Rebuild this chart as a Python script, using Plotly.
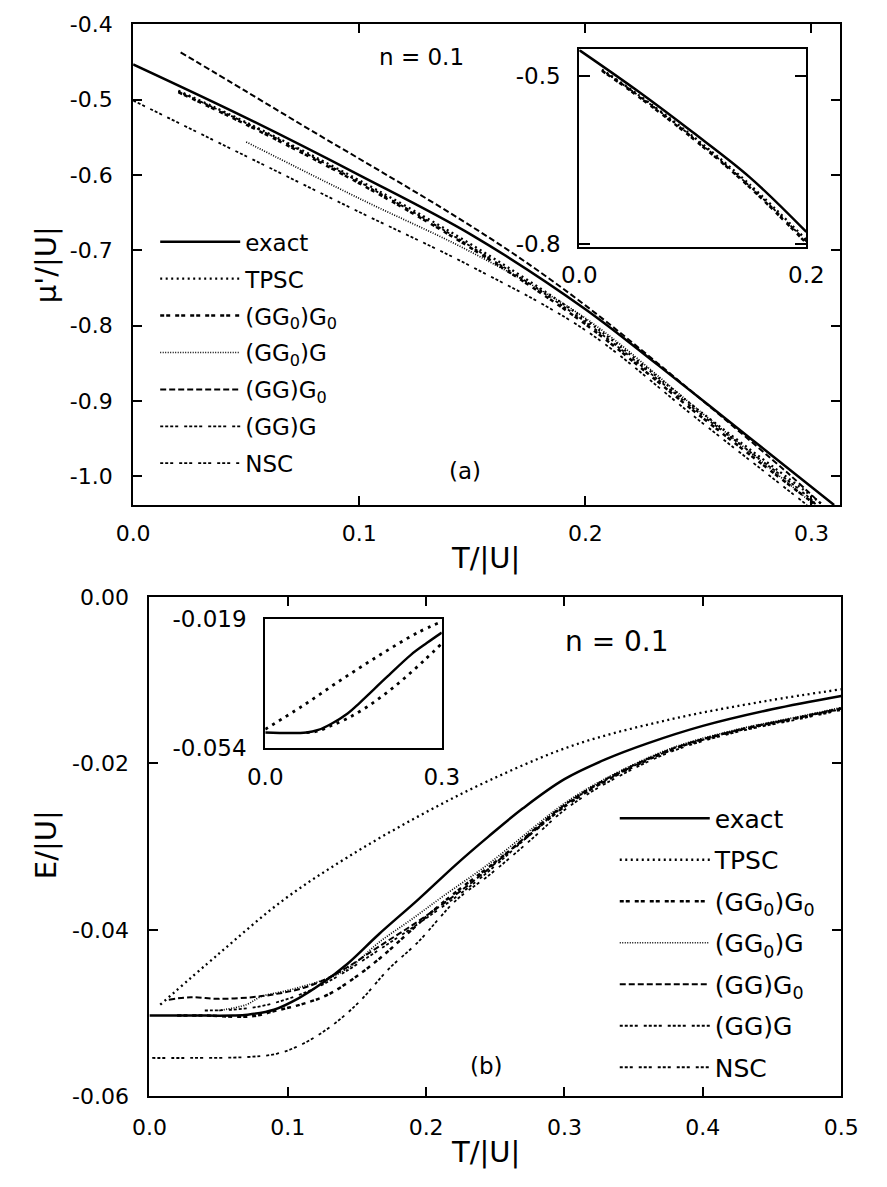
import plotly.graph_objects as go

W, H = 887, 1187

# ---------------- data: panel (a) chemical potential ----------------
a_exact_T = [0, 0.05, 0.1, 0.15, 0.2, 0.232, 0.274, 0.31]
a_exact_mu = [-0.453, -0.524, -0.600, -0.680, -0.778, -0.852, -0.952, -1.038]

a_tpsc_T = [0.02, 0.05, 0.1, 0.15, 0.2, 0.25, 0.3, 0.305]
a_tpsc_mu = [-0.488, -0.530, -0.607, -0.693, -0.792, -0.912, -1.026, -1.038]

a_gg0g0_T = [0.02, 0.05, 0.1, 0.15, 0.2, 0.25, 0.3, 0.303]
a_gg0g0_mu = [-0.490, -0.533, -0.611, -0.698, -0.798, -0.918, -1.033, -1.038]

a_gg0g_T = [0.05, 0.1, 0.15, 0.2, 0.25, 0.3, 0.301]
a_gg0g_mu = [-0.556, -0.631, -0.703, -0.790, -0.912, -1.035, -1.038]

a_ggg0_T = [0.021, 0.05, 0.08, 0.11, 0.14, 0.17, 0.2, 0.23, 0.26, 0.29, 0.304]
a_ggg0_mu = [-0.437, -0.489, -0.543, -0.596, -0.650, -0.708, -0.773, -0.845, -0.920,
             -0.997, -1.036]

a_ggg_T = [0.02, 0.05, 0.1, 0.15, 0.2, 0.25, 0.3, 0.302]
a_ggg_mu = [-0.489, -0.531, -0.609, -0.696, -0.795, -0.915, -1.031, -1.038]

a_nsc_T = [0, 0.05, 0.1, 0.15, 0.2, 0.25, 0.298]
a_nsc_mu = [-0.501, -0.575, -0.649, -0.722, -0.806, -0.925, -1.038]

# ---------------- data: panel (b) energy ----------------
b_exact_T = [0, 0.03, 0.06, 0.071, 0.09, 0.108, 0.125, 0.143, 0.166, 0.194, 0.222,
             0.245, 0.27, 0.30, 0.33, 0.36, 0.40, 0.45, 0.5]
b_exact_E = [-0.0503, -0.0503, -0.0503, -0.0502, -0.0496, -0.0482, -0.0464, -0.0441,
             -0.0405, -0.0364, -0.0321, -0.0288, -0.0254, -0.0219, -0.0195, -0.0176,
             -0.0155, -0.0135, -0.0119]

b_tpsc_T = [0.0078, 0.05, 0.097, 0.143, 0.194, 0.245, 0.307, 0.377, 0.446, 0.5]
b_tpsc_E = [-0.0490, -0.0429, -0.0364, -0.0313, -0.0264, -0.0221, -0.0178, -0.0147,
            -0.0125, -0.0111]

b_gg0g0_T = [0.02, 0.04, 0.0737, 0.092, 0.111, 0.129, 0.148, 0.166, 0.185, 0.203,
             0.222, 0.245, 0.277, 0.30, 0.33, 0.377, 0.423, 0.469, 0.5]
b_gg0g0_E = [-0.0503, -0.0503, -0.0504, -0.0497, -0.0489, -0.0478, -0.0458, -0.0435,
             -0.0407, -0.0380, -0.0354, -0.0325, -0.0283, -0.0252, -0.0221, -0.0184,
             -0.0161, -0.0145, -0.0134]

b_gg0g_T = [0.05, 0.07, 0.081, 0.097, 0.115, 0.134, 0.148, 0.166, 0.189, 0.212, 0.245,
            0.277, 0.30, 0.33, 0.377, 0.423, 0.469, 0.5]
b_gg0g_E = [-0.0497, -0.0490, -0.0480, -0.0474, -0.0466, -0.0455, -0.0441, -0.0415,
            -0.0388, -0.0360, -0.0321, -0.0278, -0.0248, -0.0218, -0.0182, -0.0160,
            -0.0144, -0.0133]

b_ggg0_T = [0.014, 0.03, 0.05, 0.074, 0.092, 0.111, 0.129, 0.143, 0.166, 0.194, 0.222,
            0.245, 0.277, 0.30, 0.33, 0.377, 0.423, 0.469, 0.5]
b_ggg0_E = [-0.0484, -0.0481, -0.0483, -0.0481, -0.0477, -0.0470, -0.0458, -0.0445,
            -0.0420, -0.0390, -0.0357, -0.0327, -0.0281, -0.0250, -0.0219, -0.0183,
            -0.0161, -0.0145, -0.0134]

b_ggg_T = [0.04, 0.06, 0.08, 0.1, 0.12, 0.14, 0.166, 0.194, 0.222, 0.245, 0.277, 0.30,
           0.33, 0.377, 0.423, 0.469, 0.5]
b_ggg_E = [-0.0497, -0.0496, -0.0492, -0.0483, -0.0470, -0.0452, -0.0424, -0.0393,
           -0.0360, -0.0330, -0.0283, -0.0251, -0.0220, -0.0184, -0.0162, -0.0146,
           -0.0135]

b_nsc_T = [0.002, 0.03, 0.069, 0.092, 0.111, 0.132, 0.152, 0.173, 0.194, 0.222, 0.245,
           0.277, 0.30, 0.33, 0.377, 0.423, 0.469, 0.5]
b_nsc_E = [-0.0554, -0.0554, -0.0553, -0.0549, -0.0537, -0.0515, -0.0486, -0.0447,
           -0.0415, -0.0364, -0.0335, -0.0290, -0.0256, -0.0224, -0.0186, -0.0163,
           -0.0147, -0.0136]

# inset of panel (b)
ib_exact_T = [0, 0.07, 0.09, 0.1125, 0.14, 0.161, 0.205, 0.248, 0.275, 0.3]
ib_exact_E = [-0.0499, -0.0499, -0.0492, -0.0475, -0.0447, -0.0417, -0.0350, -0.0286,
              -0.0254, -0.0226]
ib_upper_T = [0.0, 0.0636, 0.129, 0.194, 0.259, 0.3]
ib_upper_E = [-0.0490, -0.0426, -0.0355, -0.0288, -0.0226, -0.0196]
ib_lower_T = [0.07, 0.09, 0.1125, 0.14, 0.172, 0.205, 0.237, 0.27, 0.3]
ib_lower_E = [-0.0499, -0.0495, -0.0480, -0.0460, -0.0430, -0.0392, -0.0350, -0.0302, -0.0256]

# tick labels
a_xticks = [0.0, 0.1, 0.2, 0.3]
a_xticklabels = ["0.0", "0.1", "0.2", "0.3"]
a_yticks = [-0.4, -0.5, -0.6, -0.7, -0.8, -0.9, -1.0]
a_yticklabels = ["-0.4", "-0.5", "-0.6", "-0.7", "-0.8", "-0.9", "-1.0"]
ia_xticks = [0.0, 0.2]
ia_xticklabels = ["0.0", "0.2"]
ia_yticks = [-0.5, -0.8]
ia_yticklabels = ["-0.5", "-0.8"]
b_xticks = [0.0, 0.1, 0.2, 0.3, 0.4, 0.5]
b_xticklabels = ["0.0", "0.1", "0.2", "0.3", "0.4", "0.5"]
b_yticks = [0.0, -0.02, -0.04, -0.06]
b_yticklabels = ["0.00", "-0.02", "-0.04", "-0.06"]
ib_xticks = [0.0, 0.3]
ib_xticklabels = ["0.0", "0.3"]
ib_yticks = [-0.019, -0.054]
ib_yticklabels = ["-0.019", "-0.054"]

names = ["exact", "TPSC", "(GG<sub>0</sub>)G<sub>0</sub>", "(GG<sub>0</sub>)G",
         "(GG)G<sub>0</sub>", "(GG)G", "NSC"]

styles = [
    dict(color="black", width=2.5, dash="solid"),
    dict(color="black", width=2.3, dash="2px,3.5px"),
    dict(color="black", width=2.5, dash="4px,2px,4px,5px"),
    dict(color="black", width=1.7, dash="1px,1.5px"),
    dict(color="black", width=2.0, dash="6px,3px"),
    dict(color="black", width=1.8, dash="3px,2px,3px,2px,3px,2px,3px,6px"),
    dict(color="black", width=1.8, dash="3px,2px,3px,2px,3px,6px"),
]

a_series = [(a_exact_T, a_exact_mu), (a_tpsc_T, a_tpsc_mu), (a_gg0g0_T, a_gg0g0_mu),
            (a_gg0g_T, a_gg0g_mu), (a_ggg0_T, a_ggg0_mu), (a_ggg_T, a_ggg_mu),
            (a_nsc_T, a_nsc_mu)]
b_series = [(b_exact_T, b_exact_E), (b_tpsc_T, b_tpsc_E), (b_gg0g0_T, b_gg0g0_E),
            (b_gg0g_T, b_gg0g_E), (b_ggg0_T, b_ggg0_E), (b_ggg_T, b_ggg_E),
            (b_nsc_T, b_nsc_E)]

fig = go.Figure()

for i, (t, v) in enumerate(a_series):
    fig.add_trace(go.Scatter(x=t, y=v, mode="lines", name=names[i], line=styles[i],
                             line_shape="spline",
                             xaxis="x", yaxis="y", legend="legend",
                             legendgroup="a%d" % i, showlegend=True))

# inset (a): exact and the curves that stay close to it
for i in [0, 1, 2, 5]:
    t, v = a_series[i]
    tt = [x for x in t if x <= 0.2]
    vv = [y for x, y in zip(t, v) if x <= 0.2]
    fig.add_trace(go.Scatter(x=tt, y=vv, mode="lines", line=styles[i],
                             line_shape="spline",
                             xaxis="x2", yaxis="y2", showlegend=False))

for i, (t, v) in enumerate(b_series):
    fig.add_trace(go.Scatter(x=t, y=v, mode="lines", name=names[i], line=styles[i],
                             line_shape="spline",
                             xaxis="x3", yaxis="y3", legend="legend2",
                             legendgroup="b%d" % i, showlegend=True))

fig.add_trace(go.Scatter(x=ib_upper_T, y=ib_upper_E, mode="lines", line_shape="spline",
                         line=dict(color="black", width=2.8, dash="3px,5px"),
                         xaxis="x4", yaxis="y4", showlegend=False))
fig.add_trace(go.Scatter(x=ib_exact_T, y=ib_exact_E, mode="lines", line_shape="spline",
                         line=dict(color="black", width=2.4),
                         xaxis="x4", yaxis="y4", showlegend=False))
fig.add_trace(go.Scatter(x=ib_lower_T, y=ib_lower_E, mode="lines", line_shape="spline",
                         line=dict(color="black", width=2.8, dash="3px,5px"),
                         xaxis="x4", yaxis="y4", showlegend=False))

FONT = "DejaVu Sans"
tickfont = dict(family=FONT, size=22, color="black")
insetfont = dict(family=FONT, size=23, color="black")


def px_x(p):
    return p / W


def px_y(p):
    return 1 - p / H


def axis_common(**kw):
    d = dict(showline=True, linecolor="black", linewidth=2, mirror="allticks",
             ticks="inside", ticklen=9, tickwidth=1.6, tickcolor="black",
             showgrid=False, zeroline=False, tickfont=tickfont, tickmode="array")
    d.update(kw)
    return d


def label(text, x, y, size, angle=0):
    return dict(text=text, x=px_x(x), y=px_y(y), xref="paper", yref="paper",
                xanchor="center", yanchor="middle", showarrow=False, textangle=angle,
                font=dict(family=FONT, size=size, color="black"))


fig.update_layout(
    width=W, height=H,
    margin=dict(l=0, r=0, t=0, b=0),
    paper_bgcolor="white", plot_bgcolor="white",
    xaxis=axis_common(domain=[px_x(120), px_x(857)], range=[0, 0.3127],
                      tickvals=a_xticks, ticktext=a_xticklabels, anchor="y",
                      ticklabelstandoff=8),
    yaxis=axis_common(domain=[px_y(503), px_y(11.7)], range=[-1.038, -0.4],
                      tickvals=a_yticks, ticktext=a_yticklabels, anchor="x",
                      ticklabelstandoff=14),
    xaxis2=axis_common(domain=[px_x(585), px_x(821.7)], range=[0, 0.2],
                       tickvals=ia_xticks, ticktext=ia_xticklabels, anchor="y2",
                       ticks="", ticklabelstandoff=6, tickfont=insetfont),
    yaxis2=axis_common(domain=[px_y(239.3), px_y(37.3)], range=[-0.805, -0.452],
                       tickvals=ia_yticks, ticktext=ia_yticklabels, anchor="x2",
                       ticklen=11, ticklabelstandoff=12, tickfont=insetfont),
    xaxis3=axis_common(domain=[px_x(137), px_x(858)], range=[0, 0.5],
                       tickvals=b_xticks, ticktext=b_xticklabels, anchor="y3",
                       ticklabelstandoff=10),
    yaxis3=axis_common(domain=[px_y(1107.5), px_y(597)], range=[-0.06, 0.0],
                       tickvals=b_yticks, ticktext=b_yticklabels, anchor="x3",
                       ticklabelstandoff=14),
    xaxis4=axis_common(domain=[px_x(257.7), px_x(441.7)], range=[0, 0.3],
                       tickvals=ib_xticks, ticktext=ib_xticklabels, anchor="y4",
                       ticks="", ticklabelstandoff=8, tickfont=insetfont),
    yaxis4=axis_common(domain=[px_y(751), px_y(620)], range=[-0.054, -0.019],
                       tickvals=ib_yticks, ticktext=ib_yticklabels, anchor="x4",
                       ticks="", ticklabelstandoff=12, tickfont=insetfont),
    legend=dict(x=px_x(143), y=px_y(212), xanchor="left", yanchor="top",
                bgcolor="rgba(0,0,0,0)", font=dict(family=FONT, size=23, color="black"),
                tracegroupgap=4, itemwidth=80, traceorder="grouped"),
    legend2=dict(x=px_x(622), y=px_y(800), xanchor="left", yanchor="top",
                 bgcolor="rgba(0,0,0,0)", font=dict(family=FONT, size=25, color="black"),
                 tracegroupgap=6, itemwidth=90, traceorder="grouped"),
    annotations=[
        label("n = 0.1", 421, 45, 23),
        label("(a)", 466, 468, 23),
        label("T/|U|", 487, 557, 29),
        label("μ'/|U|", 30, 257, 29, -90),
        label("n = 0.1", 624, 643, 28),
        label("(b)", 488, 1077, 23),
        label("T/|U|", 487, 1165, 29),
        label("E/|U|", 30, 850, 29, -90),
    ],
)

fig.write_html("out.html")
